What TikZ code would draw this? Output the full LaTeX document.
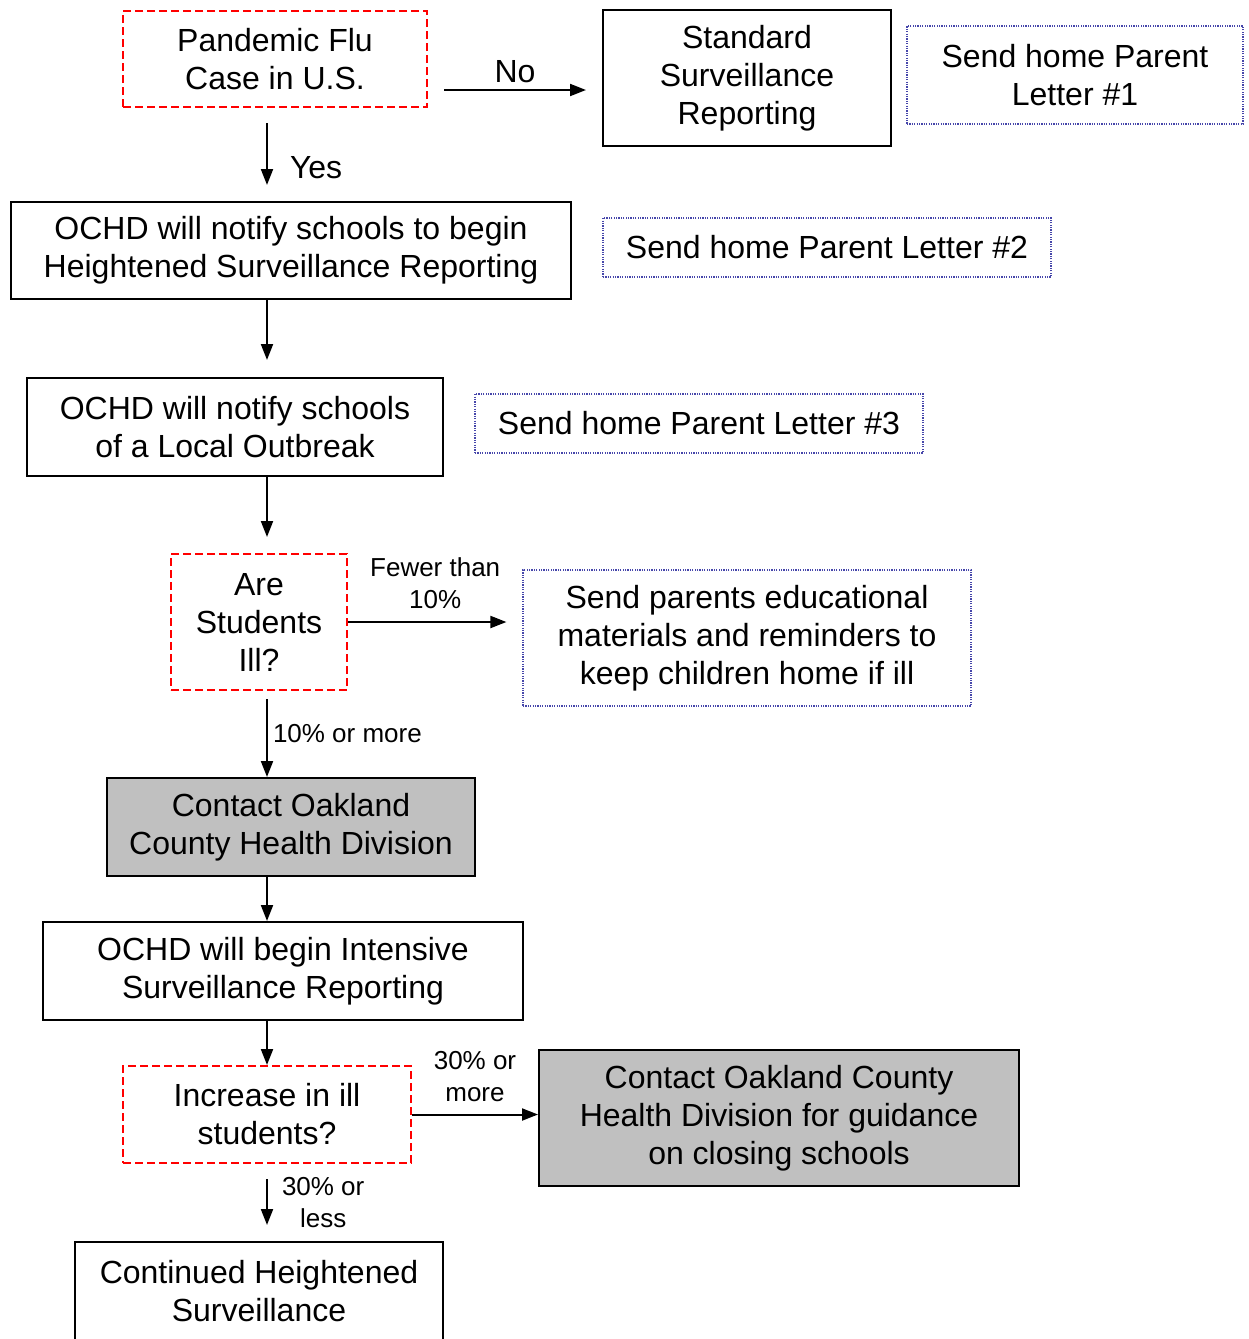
\documentclass[tikz,border=0pt]{standalone}
\usepackage{fontspec}
\setmainfont{Liberation Sans}
\usetikzlibrary{arrows.meta,positioning,calc}

\definecolor{letterblue}{RGB}{70,70,170}
\definecolor{boxgrey}{RGB}{192,192,192}

\tikzset{
  box/.style={draw, line width=1pt, align=center, inner sep=0pt,
    font=\fontsize{16}{19}\selectfont},
  ask/.style={box, draw=red, dash pattern=on 4pt off 2pt},
  letter/.style={box, draw=letterblue, line width=0.6pt, dash pattern=on 0.6pt off 0.6pt},
  grey/.style={box, fill=boxgrey},
  arr/.style={-{Triangle[length=8pt,width=6pt]}, line width=1pt},
  lbl/.style={font=\fontsize{13}{16}\selectfont, align=center, inner sep=0pt}
}

\begin{document}
\begin{tikzpicture}[x=0.5pt, y=0.5pt]
  \useasboundingbox (0,0) rectangle (1248,-1339);
  \coordinate (sp) at (267,0);

  %top row
  \node[ask, minimum width=152pt, minimum height=48pt] (flu) at (275,-59) {Pandemic Flu\\Case in U.S.};
  \node[box, minimum width=144pt, minimum height=68pt] (std) at (747,-78) {Standard\\Surveillance\\Reporting};
  \node[letter, minimum width=168pt, minimum height=49pt] (l1) at (1075,-75) {Send home Parent\\Letter \#1};

  %notify
  \node[box, minimum width=280pt, minimum height=48.5pt] (hsr) at (291,-250.5) {OCHD will notify schools to begin\\Heightened Surveillance Reporting};
  \node[letter, minimum width=224pt, minimum height=29.5pt] (l2) at (827,-247.5) {Send home Parent Letter \#2};
  \node[box, minimum width=208pt, minimum height=49pt] (local) at (235,-427) {OCHD will notify schools\\of a Local Outbreak};
  \node[letter, minimum width=224pt, minimum height=29.5pt] (l3) at (699,-423.5) {Send home Parent Letter \#3};

  %students ill
  \node[ask, minimum width=88pt, minimum height=68pt] (ill) at (259,-622) {Are\\Students\\Ill?};
  \node[letter, minimum width=224pt, minimum height=68pt] (edu) at (747,-638) {Send parents educational\\materials and reminders to\\keep children home if ill};
  \node[grey, minimum width=184pt, minimum height=49pt] (ochd) at (291,-827) {Contact Oakland\\County Health Division};
  \node[box, minimum width=240pt, minimum height=49pt] (isr) at (283,-971) {OCHD will begin Intensive\\Surveillance Reporting};

  %increase
  \node[ask, minimum width=144pt, minimum height=48.5pt] (incr) at (267,-1114.5) {Increase in ill\\students?};
  \node[grey, minimum width=240pt, minimum height=68pt] (close) at (779,-1118) {Contact Oakland County\\Health Division for guidance\\on closing schools};
  \node[box, minimum width=184pt, minimum height=49pt] (cont) at (259,-1291) {Continued Heightened\\Surveillance};

  %arrows
  \draw[arr, shorten <=8pt, shorten >=8pt] ([yshift=9pt]flu.south east) -- ([yshift=9pt]flu.south east -| std.west)
    node[midway, above=3pt, inner sep=0pt, font=\fontsize{16}{19}\selectfont] {No};
  \draw[arr, shorten <=7.5pt, shorten >=8pt] (flu.south -| sp) -- (hsr.north -| sp)
    node[pos=0.64, right=11pt, inner sep=0pt, font=\fontsize{16}{19}\selectfont] {Yes};
  \draw[arr, shorten >=8.5pt] (hsr.south -| sp) -- (local.north -| sp);
  \draw[arr, shorten >=8pt] (local.south -| sp) -- (ill.north -| sp);
  \draw[arr, shorten >=8pt] (ill.east) -- (edu.west |- ill.east)
    node[midway, above=6pt, lbl] {Fewer than\\10\%};
  \draw[arr, shorten <=4pt] (ill.south -| sp) -- (ochd.north -| sp)
    node[midway, right=2.5pt, lbl] {10\% or more};
  \draw[arr] (ochd.south -| sp) -- (isr.north -| sp);
  \draw[arr] (isr.south -| sp) -- (incr.north -| sp);
  \draw[arr] (incr.east) -- (close.west |- incr.east)
    node[midway, above=6pt, lbl] {30\% or\\more};
  \draw[arr, shorten <=7.5pt, shorten >=8pt] (incr.south -| sp) -- (cont.north -| sp)
    node[midway, right=7pt, lbl] {30\% or\\less};
\end{tikzpicture}
\end{document}
